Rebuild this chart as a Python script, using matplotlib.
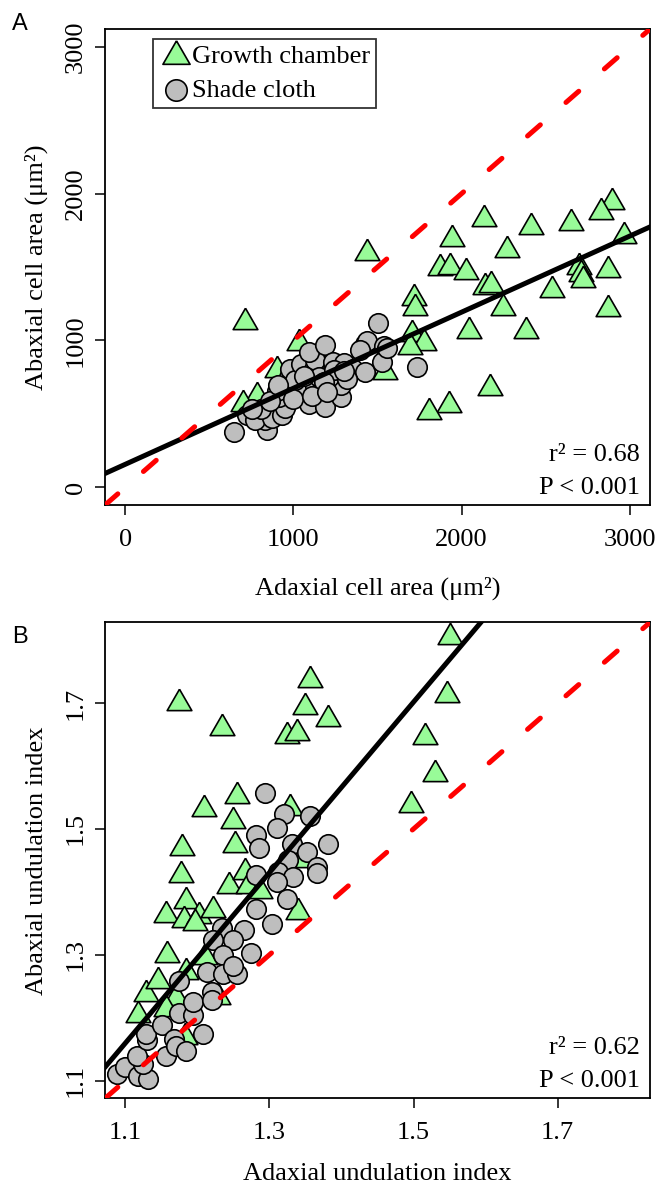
import numpy as np
import matplotlib
matplotlib.use("Agg")
from matplotlib import pyplot as plt

plt.rcParams['font.family'] = ['Liberation Serif', 'DejaVu Serif']

# ---- panel A: cell area (um^2) ----
gc_area_x = [2894, 2830, 2135, 2411, 2651, 2964, 1941, 2271, 1440, 1873, 1933,
             2026, 2700, 2709, 2724, 2873, 2139, 2177, 2539, 1718, 1723, 2245,
             2868, 710, 2043, 2384, 1704, 1774, 1695, 2171, 1926, 1809, 1036,
             902, 783, 703, 882, 1546]
gc_area_y = [1943, 1875, 1825, 1773, 1802, 1709, 1693, 1614, 1595, 1495, 1500,
             1466, 1500, 1450, 1414, 1477, 1364, 1375, 1345, 1291, 1220, 1220,
             1216, 1125, 1068, 1068, 1046, 980, 955, 679, 559, 514, 985,
             796, 620, 570, 550, 785]

sc_area_x = [644, 842, 832, 723, 774, 870, 806, 753, 931, 950, 917, 902, 860,
             1090, 1189, 1285, 1021, 1130, 1280, 971, 981, 1012, 1045, 1120,
             1129, 1090, 1185, 1214, 1150, 1238, 1298, 1357, 1427, 1427, 1440,
             1397, 1536, 1526, 1734, 1501, 1554, 1060, 1240, 1320, 1180, 910,
             1000, 1110, 1200, 1300]
sc_area_y = [378, 389, 456, 490, 457, 470, 536, 536, 490, 540, 615, 655, 590,
             565, 550, 615, 665, 690, 700, 751, 808, 728, 842, 808,
             864, 921, 967, 751, 751, 853, 850, 808, 785, 978, 995,
             933, 960, 853, 819, 1118, 950, 760, 800, 740, 720, 700,
             600, 620, 650, 790]

# ---- panel B: undulation index ----
gc_und_x = [1.550, 1.357, 1.175, 1.349, 1.547, 1.234, 1.382, 1.324, 1.338,
            1.516, 1.530, 1.497, 1.255, 1.209, 1.250, 1.329, 1.179, 1.253,
            1.177, 1.244, 1.266, 1.271, 1.287, 1.184, 1.157, 1.181, 1.203,
            1.222, 1.197, 1.340, 1.158, 1.211, 1.347, 1.118, 1.129, 1.146,
            1.185, 1.170, 1.157, 1.183, 1.229]
gc_und_y = [1.804, 1.737, 1.700, 1.693, 1.712, 1.661, 1.674, 1.647, 1.653,
            1.646, 1.587, 1.538, 1.553, 1.531, 1.513, 1.533, 1.470, 1.475,
            1.426, 1.409, 1.431, 1.410, 1.402, 1.386, 1.363, 1.356, 1.361,
            1.371, 1.350, 1.368, 1.299, 1.296, 1.450, 1.204, 1.238, 1.259,
            1.273, 1.232, 1.214, 1.169, 1.233]

sc_und_x = [1.294, 1.320, 1.356, 1.311, 1.281, 1.285, 1.332, 1.382, 1.352,
            1.326, 1.366, 1.366, 1.312, 1.333, 1.310, 1.282, 1.324, 1.281,
            1.303, 1.265, 1.234, 1.222, 1.250, 1.275, 1.236, 1.088, 1.100,
            1.118, 1.132, 1.125, 1.116, 1.130, 1.129, 1.157, 1.151, 1.167,
            1.170, 1.185, 1.174, 1.194, 1.208, 1.194, 1.174, 1.214, 1.236,
            1.255, 1.250, 1.220, 1.220]
sc_und_y = [1.557, 1.524, 1.521, 1.501, 1.491, 1.469, 1.476, 1.476, 1.464,
            1.450, 1.440, 1.430, 1.431, 1.423, 1.416, 1.426, 1.388, 1.373,
            1.349, 1.340, 1.342, 1.323, 1.323, 1.303, 1.299, 1.110, 1.122,
            1.107, 1.102, 1.127, 1.140, 1.164, 1.175, 1.140, 1.188, 1.167,
            1.155, 1.148, 1.208, 1.204, 1.175, 1.225, 1.259, 1.273, 1.270,
            1.270, 1.283, 1.241, 1.228]

# regression lines: (intercept, slope)
fit_area = (157, 0.518)
fit_und = (-0.331, 1.355)
stats_area = ["r² = 0.68", "P < 0.001"]
stats_und = ["r² = 0.62", "P < 0.001"]

# equilateral triangle centred on its centroid, like R pch 24
tri = [(0, 1), (-0.866, -0.5), (0.866, -0.5), (0, 1)]
tri_size = 20.5 ** 2
circ_size = 14 ** 2
green = '#98FB98'
grey = '#BEBEBE'
fs = 19


def panel(ax, gx, gy, sx, sy, fit, lims, ticks, ticklabels, xlabel, ylabel,
          stats, xlabelpad, legend=False):
    ax.scatter(gx, gy, marker=tri, s=tri_size, facecolor=green,
               edgecolor='black', linewidth=1.2, zorder=2,
               label='Growth chamber')
    ax.scatter(sx, sy, marker='o', s=circ_size, facecolor=grey,
               edgecolor='black', linewidth=1.2, zorder=3,
               label='Shade cloth')
    ax.axline((0, fit[0]), slope=fit[1], color='black', lw=3.6, zorder=4)
    ax.axline((lims[0], lims[0]), (lims[1], lims[1]), color='red', lw=3.6,
              dashes=(3.4, 6.8), dash_capstyle='round', zorder=5)

    ax.set_xlim(lims)
    ax.set_ylim(lims)
    ax.set_xticks(ticks)
    ax.set_xticklabels(ticklabels)
    ax.set_yticks(ticks)
    ax.set_yticklabels(ticklabels, rotation=90, va='center')
    ax.tick_params(direction='out', length=7, width=1.1, labelsize=fs,
                   color='black')
    ax.tick_params(axis='x', pad=10)
    ax.tick_params(axis='y', pad=6)
    for s in ax.spines.values():
        s.set_linewidth(1.3)

    ax.set_xlabel(xlabel, fontsize=fs, labelpad=xlabelpad)
    ax.set_ylabel(ylabel, fontsize=fs, labelpad=12)

    ax.text(0.982, 0.105, stats[0], transform=ax.transAxes, ha='right',
            va='center', fontsize=fs)
    ax.text(0.982, 0.036, stats[1], transform=ax.transAxes, ha='right',
            va='center', fontsize=fs)

    if legend:
        leg = ax.legend(loc='upper left', bbox_to_anchor=(0.088, 0.979),
                        fontsize=fs, frameon=True, fancybox=False,
                        edgecolor='black', borderpad=0.22,
                        handletextpad=-0.05, handlelength=1.3,
                        labelspacing=0.38, borderaxespad=0, markerscale=1.1)
        leg.get_frame().set_linewidth(1.3)


fig = plt.figure(figsize=(6.63, 11.9), dpi=100)

axA = fig.add_axes([0.1584, 0.5756, 0.822, 0.4])
axB = fig.add_axes([0.1584, 0.0770, 0.822, 0.4])

panel(axA, gc_area_x, gc_area_y, sc_area_x, sc_area_y, fit_area,
      (-120, 3120), [0, 1000, 2000, 3000], ['0', '1000', '2000', '3000'],
      'Adaxial cell area (μm²)', 'Abaxial cell area (μm²)', stats_area,
      xlabelpad=19, legend=True)
panel(axB, gc_und_x, gc_und_y, sc_und_x, sc_und_y, fit_und,
      (1.072, 1.828), [1.1, 1.3, 1.5, 1.7], ['1.1', '1.3', '1.5', '1.7'],
      'Adaxial undulation index', 'Abaxial undulation index', stats_und,
      xlabelpad=14)

fig.text(0.03, 0.980, 'A', fontsize=17, family='Liberation Sans',
         ha='center', va='center')
fig.text(0.03, 0.4650, 'B', fontsize=17, family='Liberation Sans',
         ha='center', va='center')

fig.savefig('out.png', dpi=100)
